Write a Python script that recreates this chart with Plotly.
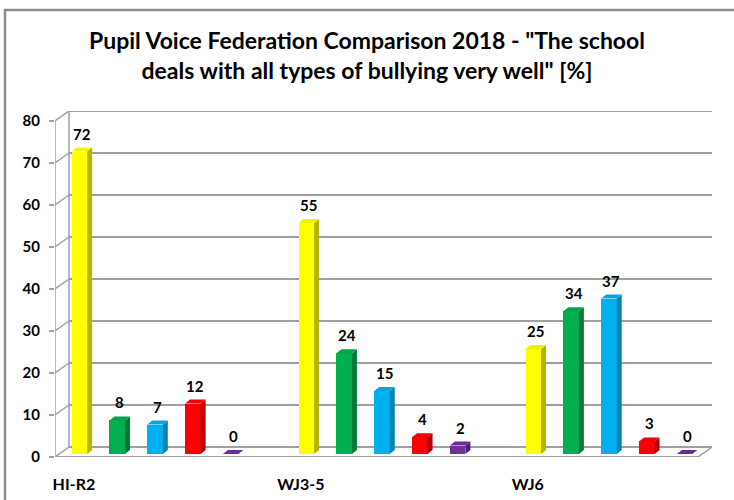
import plotly.graph_objects as go

# ---- data ----
groups = ["HI-R2", "WJ3-5", "WJ6"]
series_names = ["Series 1", "Series 2", "Series 3", "Series 4", "Series 5"]
yellow_vals = [72, 55, 25]
green_vals = [8, 24, 34]
blue_vals = [7, 15, 37]
red_vals = [12, 4, 3]
purple_vals = [0, 2, 0]
y_ticks = [0, 10, 20, 30, 40, 50, 60, 70, 80]

all_series = [yellow_vals, green_vals, blue_vals, red_vals, purple_vals]
front_cols = ["#FFFF00", "#00B050", "#00B0F0", "#FF0000", "#7030A0"]
side_cols = ["#B4B400", "#007A37", "#0082B3", "#B00000", "#4B2070"]
top_cols = ["#F2F200", "#00A64B", "#00A6E6", "#F00000", "#6A2D98"]

# ---- geometry (pixel layout) ----
W, H = 734, 500
L, R, T, B = 55, 712, 111, 457
DX_PX, DY_PX = 14, 10
n_slots = len(groups) * 6 - 1
pps = (R - L - DX_PX) / n_slots
ppu = (B - T - DY_PX) / y_ticks[-1]
DX = DX_PX / pps
DY = DY_PX / ppu
x_min = -0.5
x_max = n_slots - 0.5
ymax = y_ticks[-1]

BX = 5.5 / pps
BY = 3 / ppu
BW = 15.5 / pps
dxb = 5 / pps
dyb = 4 / ppu

fig = go.Figure()
shapes = []
annotations = []
grid_col = "#A0A0A0"

# back wall gridlines & left connectors
for v in y_ticks:
    shapes.append(dict(type="line", xref="x", yref="y", x0=x_min + DX, x1=x_max + DX,
                       y0=v + DY, y1=v + DY, line=dict(color=grid_col, width=1.8), layer="below"))
    shapes.append(dict(type="line", xref="x", yref="y", x0=x_min, x1=x_min + DX,
                       y0=v, y1=v + DY, line=dict(color=grid_col, width=1.5), layer="below"))
# back wall left edge
shapes.append(dict(type="line", xref="x", yref="y", x0=x_min + DX, x1=x_min + DX,
                   y0=DY, y1=ymax + DY, line=dict(color=grid_col, width=1.5), layer="below"))
# front y axis line
shapes.append(dict(type="line", xref="x", yref="y", x0=x_min, x1=x_min,
                   y0=0, y1=ymax, line=dict(color=grid_col, width=1.5), layer="below"))
# floor front edge & right connector
shapes.append(dict(type="line", xref="x", yref="y", x0=x_min, x1=x_max,
                   y0=0, y1=0, line=dict(color=grid_col, width=1.8), layer="below"))
shapes.append(dict(type="line", xref="x", yref="y", x0=x_max, x1=x_max + DX,
                   y0=0, y1=DY, line=dict(color=grid_col, width=1.5), layer="below"))
# x tick marks at slot boundaries
for k in range(n_slots + 1):
    xb = x_min + k
    shapes.append(dict(type="line", xref="x", yref="y", ysizemode="pixel", yanchor=0,
                       x0=xb, x1=xb, y0=0, y1=-6, line=dict(color=grid_col, width=1.5), layer="below"))

# bars
for s, vals in enumerate(all_series):
    xs = [g * 6 + s + BX for g in range(len(groups))]
    fig.add_trace(go.Bar(x=xs, y=vals, base=BY, width=BW, name=series_names[s],
                         marker=dict(color=front_cols[s], line=dict(width=0)),
                         hoverinfo="y", showlegend=False))
    for cx, v in zip(xs, vals):
        x0, x1 = cx - BW / 2, cx + BW / 2
        y0, top = BY, BY + v
        if v > 0:
            shapes.append(dict(type="path", xref="x", yref="y",
                               path=f"M{x1},{y0} L{x1 + dxb},{y0 + dyb} L{x1 + dxb},{top + dyb} L{x1},{top} Z",
                               fillcolor=side_cols[s], line=dict(width=0), layer="above"))
        shapes.append(dict(type="path", xref="x", yref="y",
                           path=f"M{x0},{top} L{x1},{top} L{x1 + dxb},{top + dyb} L{x0 + dxb},{top + dyb} Z",
                           fillcolor=top_cols[s], line=dict(width=0), layer="above"))
        annotations.append(dict(x=cx + dxb / 2, y=top + dyb, xref="x", yref="y", text=str(v),
                                showarrow=False, yanchor="bottom", yshift=3,
                                font=dict(family="Lato, sans-serif", size=15, color="#000000", weight="bold")))

# outer chart border
def px2paper_x(px):
    return (px - L) / (R - L)

def px2paper_y(py):
    return (B - py) / (B - T)

shapes.append(dict(type="rect", xref="paper", yref="paper",
                   x0=px2paper_x(5), x1=px2paper_x(745), y0=px2paper_y(510), y1=px2paper_y(10),
                   line=dict(color="#8C8C8C", width=2.5), fillcolor="rgba(0,0,0,0)", layer="below"))

fig.update_layout(
    width=W, height=H,
    margin=dict(l=L, r=W - R, t=T, b=H - B, pad=0, autoexpand=False),
    paper_bgcolor="white", plot_bgcolor="white",
    barmode="overlay",
    bargap=0,
    title=dict(text='Pupil Voice Federation Comparison 2018 - "The school<br>deals with all types of bullying very well" [%]',
               x=0.5, xref="container", xanchor="center",
               y=1 - 49 / H, yref="container", yanchor="middle", automargin=False,
               font=dict(family="Lato, sans-serif", size=23, color="#000000", weight="bold")),
    xaxis=dict(range=[x_min, x_max + DX], tickvals=[g * 6 for g in range(len(groups))], ticktext=groups,
               showgrid=False, zeroline=False, showline=False, ticks="", ticklabelstandoff=16,
               automargin=False,
               tickfont=dict(family="Lato, sans-serif", size=16, color="#000000", weight="bold"),
               fixedrange=True),
    yaxis=dict(range=[0, ymax + DY], tickvals=y_ticks, showgrid=False, zeroline=False, showline=False,
               ticks="outside", ticklen=5, tickcolor=grid_col, tickwidth=1.5, ticklabelstandoff=6,
               automargin=False,
               tickfont=dict(family="Lato, sans-serif", size=15, color="#000000", weight="bold"),
               fixedrange=True),
    shapes=shapes,
    annotations=annotations,
    showlegend=False,
)

fig.write_html("out.html", config={"displayModeBar": False},
               post_script="document.body.style.margin='0';")
